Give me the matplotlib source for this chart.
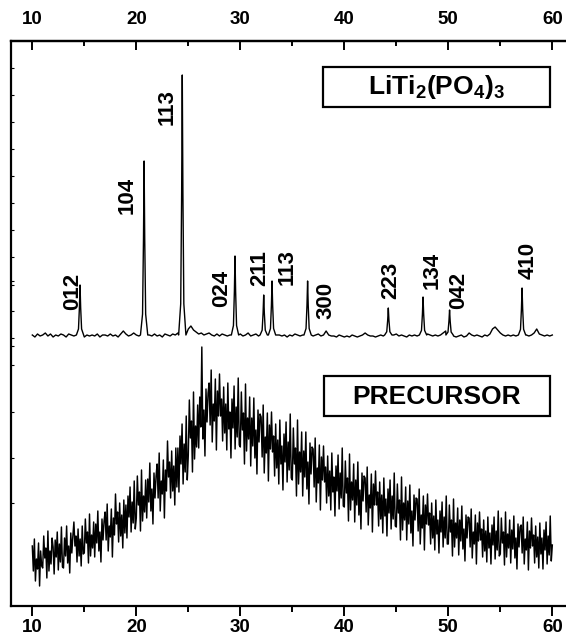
import matplotlib
matplotlib.use("Agg")
import matplotlib.pyplot as plt
from matplotlib.patches import Rectangle

plt.rcParams['font.family'] = ['Liberation Sans', 'DejaVu Sans']
plt.rcParams['font.weight'] = 'bold'
plt.rcParams['mathtext.fontset'] = 'custom'
plt.rcParams['mathtext.rm'] = 'Liberation Sans:bold'
plt.rcParams['mathtext.it'] = 'Liberation Sans:bold'
plt.rcParams['mathtext.bf'] = 'Liberation Sans:bold'

THETA_START = 10.0
BG_STEP = 0.25
PRE_STEP = 0.1
LTP_OFFSET = 268

# LiTi2(PO4)3 background, every 0.25 deg from 10 to 60
ltp_background = [
    3, 1, 4, 2,  3, 5, 2, 4,  1, 3, 2, 4,  3, 1, 4, 3,  2, 4, 3, 2,
    1, 3, 2, 3,  2, 4, 1, 3,  3, 2, 4, 2,  3, 1, 4, 7,  4, 2, 3, 5,
    3, 2, 4, 3,  1, 3, 2, 4,  2, 3, 1, 4,  3, 2, 4, 3,  5, 4, 6, 5,
    9, 12, 8, 6,  4, 5, 3, 4,  5, 3, 2, 4,  2, 4, 3, 2,  3, 4, 2, 3,
    4, 2, 3, 5,  2, 3, 4, 2,  3, 4, 2, 3,  4, 2, 3, 3,  2, 3, 1, 3,
    2, 4, 3, 2,  3, 2, 4, 3,  2, 3, 4, 2,  3, 7, 3, 2,  2, 1, 3, 2,
    1, 2, 1, 3,  2, 1, 2, 3,  5, 3, 2, 2,  1, 2, 3, 2,  3, 2, 4, 3,
    4, 2, 3, 2,  1, 3, 2, 3,  2, 4, 3, 2,  4, 3, 2, 3,  2, 3, 5, 7,
    4, 3, 2, 1,  2, 3, 1, 2,  5, 3, 2, 3,  2, 1, 3, 2,  4, 9, 11, 8,
    5, 3, 2, 3,  2, 3, 2, 4,  3, 4, 3, 2,  3, 5, 9, 4,  3, 2, 3, 2,
    3,
]

ltp_peak_pos = [14.59, 20.75, 24.42, 29.49, 32.25, 33.05, 36.47,
                44.23, 47.57, 50.12, 57.09]
ltp_peak_height = [50, 174, 260, 79, 40, 54, 54, 27, 38, 25, 47]

peak_labels = ["012", "104", "113", "024", "211", "113",
               "300", "223", "134", "042", "410"]
peak_label_x = [13.87, 19.14, 22.92, 28.17, 31.83, 34.46,
                38.24, 44.49, 48.40, 51.03, 57.63]
peak_label_y = [315, 411, 499, 318, 338, 339, 306, 326, 336, 316, 346]

# amorphous precursor, every 0.1 deg from 10 to 60 (one row per degree)
precursor_counts = [
    60, 35, 67, 25, 47, 37, 63, 20, 55, 40,
    38, 70, 48, 58, 28, 75, 35, 55, 42, 68,
    59, 32, 66, 49, 74, 36, 62, 44, 79, 39,
    38, 68, 50, 80, 43, 60, 33, 73, 53, 70,
    84, 60, 70, 44, 77, 50, 67, 40, 80, 52,
    53, 87, 63, 74, 43, 92, 50, 71, 58, 84,
    49, 82, 63, 95, 55, 74, 44, 87, 66, 85,
    94, 66, 102, 55, 80, 69, 97, 49, 88, 71,
    112, 82, 94, 64, 103, 70, 91, 58, 106, 73,
    101, 68, 110, 89, 119, 74, 104, 83, 125, 77,
    88, 130, 101, 114, 75, 136, 85, 110, 94, 126,
    88, 127, 104, 143, 95, 117, 82, 133, 108, 130,
    142, 108, 153, 95, 125, 112, 146, 88, 136, 115,
    165, 129, 144, 108, 155, 115, 140, 101, 158, 119,
    158, 114, 170, 142, 182, 122, 162, 134, 190, 126,
    151, 206, 168, 185, 134, 214, 147, 180, 159, 201,
    158, 209, 179, 259, 167, 196, 150, 217, 184, 213,
    223, 181, 236, 164, 202, 185, 227, 156, 215, 190,
    232, 190, 207, 165, 219, 173, 202, 156, 223, 177,
    194, 148, 207, 178, 220, 157, 199, 169, 228, 161,
    159, 214, 176, 193, 142, 222, 155, 188, 167, 209,
    140, 188, 160, 208, 148, 176, 132, 196, 164, 192,
    189, 149, 201, 133, 169, 153, 193, 125, 181, 157,
    194, 154, 170, 130, 182, 138, 166, 122, 186, 142,
    160, 116, 172, 144, 184, 124, 164, 136, 192, 128,
    126, 178, 142, 158, 110, 186, 122, 154, 134, 174,
    110, 155, 129, 174, 117, 144, 102, 163, 132, 159,
    157, 119, 168, 104, 138, 123, 161, 96, 149, 126,
    160, 124, 139, 103, 150, 110, 135, 96, 153, 114,
    129, 90, 140, 115, 151, 97, 133, 108, 158, 100,
    99, 145, 113, 128, 85, 152, 96, 124, 106, 142,
    84, 126, 101, 144, 91, 116, 77, 133, 105, 130,
    128, 94, 139, 81, 111, 98, 132, 74, 122, 101,
    135, 101, 114, 80, 124, 87, 111, 73, 128, 90,
    107, 70, 117, 93, 126, 77, 110, 87, 133, 80,
    79, 122, 93, 106, 66, 129, 76, 103, 86, 119,
    66, 105, 82, 121, 73, 95, 60, 111, 86, 108,
    107, 75, 117, 62, 91, 78, 110, 56, 101, 82,
    112, 81, 93, 62, 103, 68, 90, 56, 106, 72,
    86, 53, 95, 74, 104, 59, 89, 68, 110, 62,
    62, 101, 74, 86, 50, 107, 59, 83, 68, 98,
    51, 86, 65, 100, 57, 77, 45, 91, 68, 89,
    88, 59, 97, 48, 74, 62, 91, 42, 83, 65,
    94, 66, 77, 49, 86, 55, 75, 44, 89, 58,
    73, 42, 81, 61, 89, 47, 75, 56, 95, 50,
    52, 88, 63, 74, 41, 94, 49, 72, 58, 86,
    43, 76, 57, 90, 48, 68, 37, 82, 59, 79,
    81, 53, 89, 42, 67, 56, 84, 36, 75, 58,
    88, 60, 71, 43, 80, 49, 69, 38, 83, 52,
    68, 37, 76, 56, 84, 42, 70, 51, 90, 45,
    61,
]

left_ticks = [538, 511, 484, 457, 430, 403, 376, 349, 325, 321, 295, 268,
              260, 241, 194, 148, 103]

PEAK_DX = [-0.35, -0.15, -0.06, 0.0, 0.06, 0.15, 0.35]
PEAK_FR = [0.0, 0.12, 0.55, 1.0, 0.55, 0.12, 0.0]


def build_ltp_trace():
    pts = []
    for i, v in enumerate(ltp_background):
        x = THETA_START + i * BG_STEP
        if any(abs(x - p) < 0.35 for p in ltp_peak_pos):
            continue
        pts.append((x, v))
    for p, h in zip(ltp_peak_pos, ltp_peak_height):
        for dx, fr in zip(PEAK_DX, PEAK_FR):
            pts.append((p + dx, 3 + fr * h))
    pts.sort()
    xs = [p[0] for p in pts]
    ys = [p[1] + LTP_OFFSET for p in pts]
    return xs, ys


fig = plt.figure(figsize=(5.66, 6.35), dpi=100)
ax = fig.add_axes([11 / 566, 29 / 635, 559 / 566, 565.3 / 635])

lx, ly = build_ltp_trace()
ax.plot(lx, ly, color='black', linewidth=1.0)

px = [THETA_START + i * PRE_STEP for i in range(len(precursor_counts))]
ax.plot(px, precursor_counts, color='black', linewidth=1.05)

for txt, x, y in zip(peak_labels, peak_label_x, peak_label_y):
    ax.text(x, y, txt, rotation=90, ha='center', va='center',
            fontsize=16, fontweight='bold', rotation_mode='anchor')

ax.add_patch(Rectangle((37.95, 499.3), 21.86, 40, fill=False,
                       edgecolor='black', linewidth=1.6))
ax.text(48.88, 519, r'$\mathbf{LiTi_2(PO_4)_3}$', ha='center', va='center',
        fontsize=19)
ax.add_patch(Rectangle((38.0, 190), 21.8, 40, fill=False,
                       edgecolor='black', linewidth=1.6))
ax.text(48.9, 209, "PRECURSOR", ha='center', va='center',
        fontsize=19, fontweight='bold')

ax.set_xlim(7.952, 61.70)
ax.set_ylim(0, 565.3)

ax.spines['right'].set_visible(False)
for side in ['left', 'top', 'bottom']:
    ax.spines[side].set_linewidth(1.6)

ax.set_xticks(range(10, 61, 10))
ax.set_xticks(range(15, 60, 10), minor=True)
ax.tick_params(axis='x', which='major', direction='out', length=7.2,
               width=1.4, pad=2.5, labelsize=13.5)
ax.tick_params(axis='x', which='minor', direction='out', length=4, width=1.4)

ax.set_yticks(left_ticks)
ax.tick_params(axis='y', direction='in', length=2.5, width=0.8,
               labelleft=False)

top = ax.secondary_xaxis('top')
top.set_xticks(range(10, 61, 10))
top.set_xticks(range(15, 60, 10), minor=True)
top.tick_params(axis='x', which='major', direction='in', length=6.7,
                width=1.4, pad=9.5, labelsize=13.5)
top.tick_params(axis='x', which='minor', direction='in', length=3.6, width=1.4)
top.spines['top'].set_linewidth(1.6)

fig.savefig("out.png", dpi=100)
